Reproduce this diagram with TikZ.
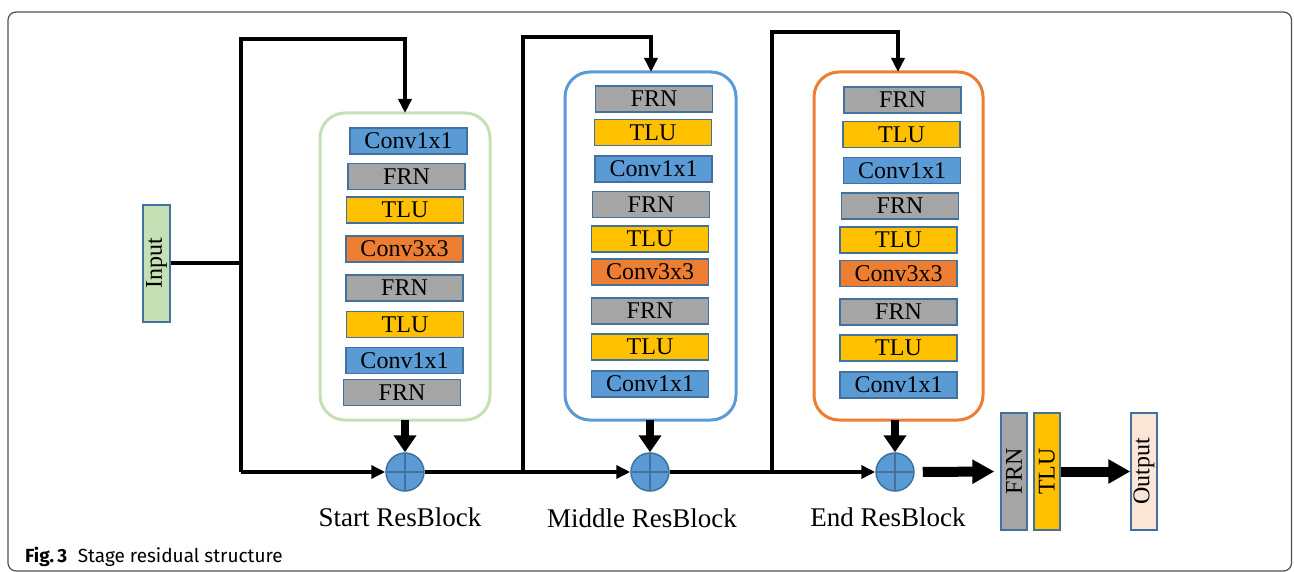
\documentclass[tikz,border=0pt]{standalone}
\usepackage{fontspec}
\setmainfont{Liberation Serif}
\newfontfamily\capfont{Fira Sans}
\usetikzlibrary{arrows.meta}
\definecolor{cblue}{HTML}{5B9BD5}
\definecolor{cgray}{HTML}{A5A5A5}
\definecolor{cyellow}{HTML}{FFC000}
\definecolor{corange}{HTML}{ED7D31}
\definecolor{cgreen}{HTML}{C5E0B4}
\definecolor{cpeach}{HTML}{FBE5D6}
\definecolor{edgeblue}{HTML}{41719C}
\definecolor{framegray}{HTML}{505050}
\begin{document}
\begin{tikzpicture}[x=1pt,y=-1pt,
  layer/.style={draw=edgeblue, line width=1.3pt, minimum width=117pt,
    minimum height=26pt, inner sep=0pt, font=\rmfamily\fontsize{24}{24}\selectfont},
  frn/.style={layer, fill=cgray},
  tlu/.style={layer, fill=cyellow},
  convone/.style={layer, fill=cblue},
  convthree/.style={layer, fill=corange},
  vlayer/.style={layer, rotate=90},
  container/.style={draw=#1, line width=3pt, rounded corners=25pt, inner sep=0pt},
  adder/.style={circle, minimum size=38pt, inner sep=0pt, fill=cblue,
    draw=edgeblue, line width=1.5pt,
    path picture={\draw[edgeblue, line width=1.8pt]
      (path picture bounding box.north) -- (path picture bounding box.south)
      (path picture bounding box.west) -- (path picture bounding box.east);}},
  skip/.style={line width=4pt},
  skiparrow/.style={skip, -{Triangle[length=14pt,width=13pt]}},
  mainarrow/.style={line width=8pt, -{Triangle[length=17pt,width=22pt]}},
  outarrow/.style={line width=10pt, -{Triangle[length=22pt,width=23pt]}},
  blocklabel/.style={font=\rmfamily\fontsize{27}{27}\selectfont}
]
\useasboundingbox (0,0) rectangle (1294,572);

% figure frame
\draw[framegray, line width=1.2pt, rounded corners=8pt] (8,12) rectangle (1291.5,571);

% containers of the three residual blocks
\draw[container=cgreen] (320,113) rectangle (490,420);
\draw[container=cblue] (565,72) rectangle (736,420);
\draw[container=corange] (814,72) rectangle (983,420);
\coordinate (sbN) at (405,113);
\coordinate (sbS) at (405,420);
\coordinate (mbN) at (651,72);
\coordinate (mbS) at (650,420);
\coordinate (ebN) at (898,72);
\coordinate (ebS) at (895,420);

% start block layers
\node[convone]   (s1) at (408.5,141) {Conv1x1};
\node[frn]       (s2) at (406.5,176.5) {FRN};
\node[tlu]       (s3) at (405,210) {TLU};
\node[convthree] (s4) at (404.5,249) {Conv3x3};
\node[frn]       (s5) at (404.5,288) {FRN};
\node[tlu]       (s6) at (405,324.5) {TLU};
\node[convone]   (s7) at (404.5,360.5) {Conv1x1};
\node[frn]       (s8) at (402,392.5) {FRN};

% middle block layers
\node[frn]       (m1) at (654,99) {FRN};
\node[tlu]       (m2) at (653,132.5) {TLU};
\node[convone]   (m3) at (653.5,169) {Conv1x1};
\node[frn]       (m4) at (651,204.5) {FRN};
\node[tlu]       (m5) at (650,239) {TLU};
\node[convthree] (m6) at (650,272) {Conv3x3};
\node[frn]       (m7) at (650,311) {FRN};
\node[tlu]       (m8) at (650,347) {TLU};
\node[convone]   (m9) at (650,384) {Conv1x1};

% end block layers
\node[frn]       (e1) at (902.5,100) {FRN};
\node[tlu]       (e2) at (901.5,134.5) {TLU};
\node[convone]   (e3) at (902,170.5) {Conv1x1};
\node[frn]       (e4) at (900,206) {FRN};
\node[tlu]       (e5) at (898.5,240) {TLU};
\node[convthree] (e6) at (898.5,273.5) {Conv3x3};
\node[frn]       (e7) at (898.5,312) {FRN};
\node[tlu]       (e8) at (898.5,348) {TLU};
\node[convone]   (e9) at (898.5,385) {Conv1x1};

% input, adders, head and output
\node[vlayer, fill=cgreen, minimum height=27pt] (in) at (156.5,263.5) {Input};
\node[adder] (ad1) at (405,472) {};
\node[adder] (ad2) at (650,472) {};
\node[adder] (ad3) at (895,472) {};
\node[vlayer, fill=cgray] (hfrn) at (1014,471.5) {FRN};
\node[vlayer, fill=cyellow] (htlu) at (1047,471.5) {TLU};
\node[vlayer, fill=cpeach] (out) at (1144,471.5) {Output};

% block labels
\node[blocklabel] (l1) at (400,517) {Start ResBlock};
\node[blocklabel] (l2) at (642,518) {Middle ResBlock};
\node[blocklabel] (l3) at (888,517) {End ResBlock};

% skip connections
\coordinate (j1b) at (241,472);
\coordinate (j1t) at (241,39);
\coordinate (j2b) at (523,472);
\coordinate (j2t) at (523,37);
\coordinate (j3b) at (772,472);
\coordinate (j3t) at (772,32);

\draw[skip] (in.south) -- (in.south -| j1b);
\draw[skiparrow] (j1b) -- (j1t) -| (sbN);
\draw[skiparrow] (j1b) -- (ad1.west);
\draw[skiparrow] (ad1.east) -- (ad2.west);
\draw[skiparrow] (j2b) -- (j2t) -| (mbN);
\draw[skiparrow] (ad2.east) -- (ad3.west);
\draw[skiparrow] (j3b) -- (j3t) -| (ebN);

% main paths
\draw[mainarrow] (sbS) -- (ad1.north);
\draw[mainarrow] (mbS) -- (ad2.north);
\draw[mainarrow] (ebS) -- (ad3.north);
\draw[outarrow, shorten <=8pt, shorten >=6pt] (ad3.east) -- (hfrn.north);
\draw[outarrow] (htlu.south) -- (out.north);

% caption
\node[anchor=base west, inner sep=0pt, font=\capfont\fontsize{19}{19}\selectfont] (cap) at (25,562)
  {\textbf{Fig.\,3}\hspace{0.55em}Stage residual structure};
\end{tikzpicture}
\end{document}
